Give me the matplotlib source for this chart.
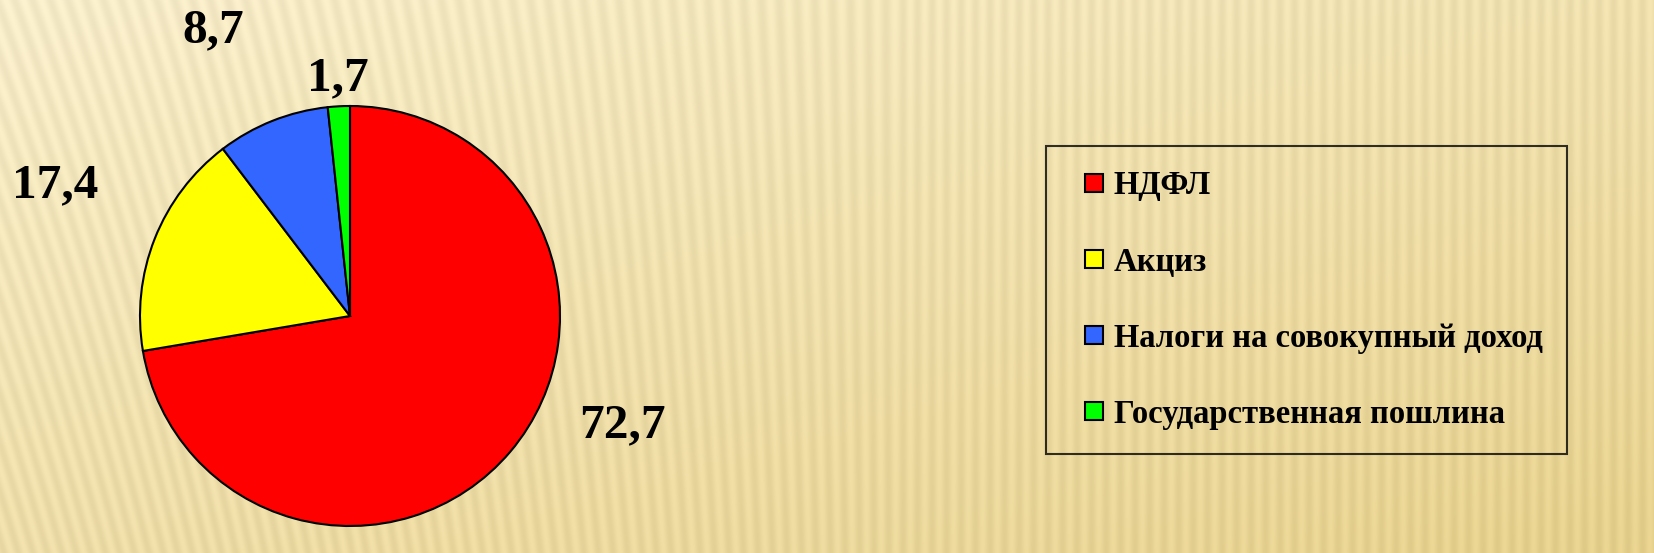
import numpy as np
import matplotlib
matplotlib.use("Agg")
import matplotlib.pyplot as plt
from matplotlib.lines import Line2D

categories = ["НДФЛ", "Акциз", "Налоги на совокупный доход", "Государственная пошлина"]
values = [72.7, 17.4, 8.7, 1.7]
colors = ["#ff0000", "#ffff00", "#3366ff", "#00ff00"]
label_pos = [(1.295, -0.52), (-1.405, 0.624), (-0.652, 1.362), (-0.057, 1.133)]

W, H = 1654, 553
fig = plt.figure(figsize=(W / 100, H / 100), dpi=100)

# background: cream gradient with soft stripes
bg = fig.add_axes([0, 0, 1, 1])
yy, xx = np.mgrid[0:H, 0:W].astype(float)
tilt = 0.30 * np.clip(1 - xx / 900.0, 0, 1)
phase = (xx + tilt * (H - yy)) / 14.5
stripe = 0.5 + 0.5 * np.sin(2 * np.pi * phase)
g = 0.45 * (xx / W) + 0.55 * (yy / H)
light = np.array([253, 243, 208]) / 255.0
dark = np.array([236, 214, 146]) / 255.0
base = light[None, None, :] * (1 - g[..., None]) + dark[None, None, :] * g[..., None]
img = base - 0.05 * stripe[..., None]
bg.imshow(np.clip(img, 0, 1), aspect="auto", extent=[0, W, H, 0], interpolation="bilinear")
bg.set_axis_off()

ax = fig.add_axes([140 / W, (H - 316 - 210) / H, 420 / W, 420 / H])
wedges, _ = ax.pie(values, colors=colors, startangle=90, counterclock=False,
                   radius=1.0, wedgeprops=dict(edgecolor="black", linewidth=1.5))
ax.set_xlim(-1, 1)
ax.set_ylim(-1, 1)
ax.set_aspect("auto")
ax.set_axis_off()

for v, (px, py) in zip(values, label_pos):
    ax.text(px, py, f"{v:.1f}".replace(".", ","), ha="center", va="center",
            fontsize=35.5, fontweight="bold", family="Liberation Serif",
            clip_on=False)

handles = [Line2D([], [], linestyle="none", marker="s", markersize=12.5,
                  markerfacecolor=c, markeredgecolor="black", markeredgewidth=1.5)
           for c in colors]
leg = fig.legend(handles, categories, loc="upper left",
                 bbox_to_anchor=(1046 / W, (H - 146) / H),
                 prop=dict(family="Liberation Serif", weight="bold", size=23.5),
                 frameon=True, fancybox=False, handlelength=1.47,
                 handletextpad=-0.15, labelspacing=1.38, borderpad=0.75,
                 borderaxespad=0)
fr = leg.get_frame()
fr.set_facecolor("none")
fr.set_edgecolor("black")
fr.set_linewidth(1.5)

fig.savefig("out.png", dpi=100)
